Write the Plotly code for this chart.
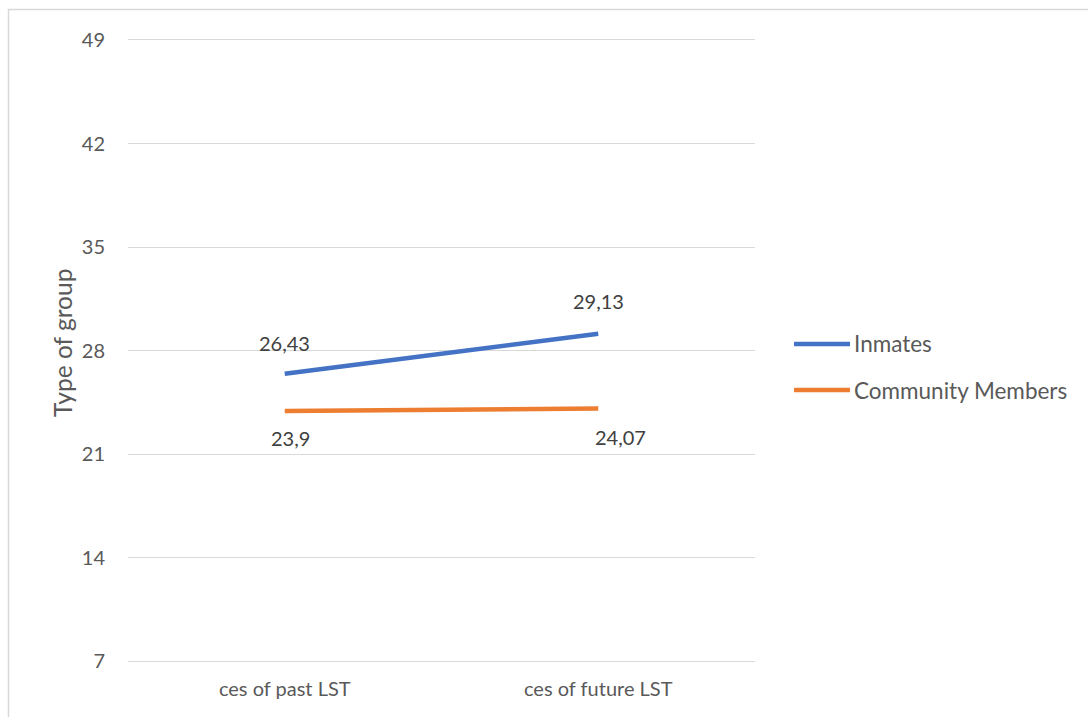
import plotly.graph_objects as go

categories = ["ces of past LST", "ces of future LST"]
series_names = ["Inmates", "Community Members"]
inmates = [26.43, 29.13]
community = [23.9, 24.07]
y_ticks = [7, 14, 21, 28, 35, 42, 49]
y_title = "Type of group"

colors = ["#4472C4", "#ED7D31"]
FONT = "Lato"
TXT = "#595959"
LBL = "#404040"

W, H = 1088, 717
L, R, T, B = 128, 333, 40, 56
pw, ph = W - L - R, H - T - B

fig = go.Figure()
all_series = [inmates, community]
for name, vals, c in zip(series_names, all_series, colors):
    fig.add_trace(go.Scatter(x=categories, y=vals, mode="lines", name=name,
                             line=dict(color=c, width=4.5), showlegend=False,
                             hoverinfo="skip"))

# data labels (positions are styling)
label_shifts = [[(0, 31), (0, 33)], [(6, -27), (22, -28)]]
for vals, shifts in zip(all_series, label_shifts):
    for cat, v, (dx, dy) in zip(categories, vals, shifts):
        fig.add_annotation(x=cat, y=v, xref="x", yref="y", text=str(v).replace(".", ","),
                           showarrow=False, xshift=dx, yshift=dy,
                           font=dict(family=FONT, size=20, color=LBL))

# manual legend
leg_x0, leg_x1 = 794, 850
leg_ys = [344, 390]
for name, c, yy in zip(series_names, colors, leg_ys):
    py = (H - B - yy) / ph
    fig.add_shape(type="line", xref="paper", yref="paper",
                  x0=(leg_x0 - L) / pw, x1=(leg_x1 - L) / pw, y0=py, y1=py,
                  line=dict(color=c, width=4.5))
    fig.add_annotation(xref="paper", yref="paper", x=(leg_x1 + 2 - L) / pw, y=py,
                       xanchor="left", yanchor="middle", text=name, showarrow=False,
                       font=dict(family=FONT, size=22.5, color=TXT))

# y-axis title
fig.add_annotation(xref="paper", yref="paper", x=(63 - L) / pw, y=(H - B - 343) / ph,
                   xanchor="center", yanchor="middle", text=y_title, textangle=-90,
                   showarrow=False, font=dict(family=FONT, size=24.5, color=TXT))

# chart border
fig.add_shape(type="rect", xref="paper", yref="paper",
              x0=(8.5 - L) / pw, x1=(W + 20 - L) / pw,
              y0=(H - B - (H + 20)) / ph, y1=(H - B - 9.5) / ph,
              line=dict(color="#D9D9D9", width=1.5), fillcolor="rgba(0,0,0,0)", layer="below")

fig.update_layout(
    width=W, height=H,
    margin=dict(l=L, r=R, t=T, b=B, autoexpand=False),
    paper_bgcolor="white", plot_bgcolor="white",
    font=dict(family=FONT, size=20, color=TXT),
    showlegend=False,
)
fig.update_xaxes(range=[-0.5, 1.5], showgrid=False, zeroline=False,
                 showline=True, mirror=True, linecolor="#D9D9D9", linewidth=1.3,
                 tickfont=dict(family=FONT, size=20, color=TXT), ticks="outside",
                 ticklen=10, tickcolor="rgba(0,0,0,0)")
fig.update_yaxes(range=[7, 49], tickvals=y_ticks, showgrid=True, gridcolor="#D9D9D9",
                 gridwidth=1.3, zeroline=False, showline=False,
                 tickfont=dict(family=FONT, size=20, color=TXT), ticks="outside",
                 ticklen=18, tickcolor="rgba(0,0,0,0)")

fig.write_html("out.html")
